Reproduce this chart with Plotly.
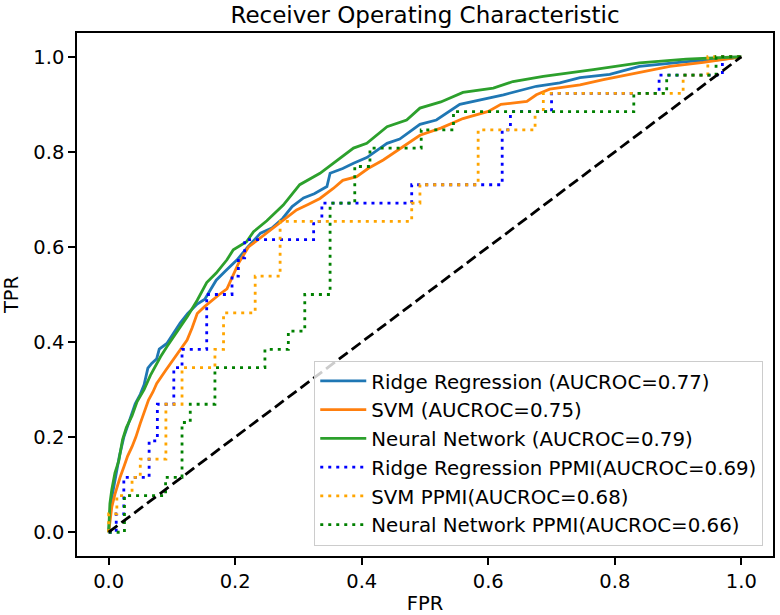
import plotly.graph_objects as go

FONT = "DejaVu Sans"

# ---- solid ROC curves ----
ridge_fpr = [0, 0.002, 0.006, 0.011, 0.017, 0.024, 0.03, 0.036, 0.042, 0.05, 0.056, 0.062, 0.068, 0.076, 0.08,
             0.092, 0.103, 0.113, 0.125, 0.14, 0.152, 0.17, 0.185, 0.203, 0.22, 0.24, 0.258, 0.275, 0.29, 0.308,
             0.325, 0.345, 0.35, 0.37, 0.387, 0.408, 0.44, 0.46, 0.492, 0.518, 0.555, 0.59, 0.624, 0.676, 0.713,
             0.745, 0.792, 0.839, 0.913, 0.966, 1.0]
ridge_tpr = [0, 0.04, 0.08, 0.12, 0.16, 0.2, 0.225, 0.245, 0.27, 0.29, 0.31, 0.345, 0.355, 0.365, 0.385,
             0.397, 0.42, 0.44, 0.46, 0.48, 0.49, 0.53, 0.55, 0.573, 0.6, 0.629, 0.64, 0.66, 0.685, 0.703,
             0.712, 0.727, 0.755, 0.765, 0.776, 0.788, 0.818, 0.827, 0.858, 0.867, 0.9, 0.91, 0.92, 0.938, 0.945,
             0.956, 0.963, 0.98, 0.99, 0.994, 1.0]

svm_fpr = [0, 0.003, 0.005, 0.01, 0.013, 0.018, 0.024, 0.03, 0.037, 0.043, 0.05, 0.056, 0.063, 0.07, 0.076,
           0.09, 0.103, 0.113, 0.124, 0.132, 0.14, 0.152, 0.165, 0.175, 0.187, 0.195, 0.205, 0.221, 0.245, 0.266,
           0.285, 0.297, 0.316, 0.334, 0.355, 0.37, 0.392, 0.41, 0.434, 0.45, 0.492, 0.525, 0.56, 0.6, 0.62,
           0.661, 0.676, 0.697, 0.745, 0.782, 0.834, 0.887, 0.94, 1.0]
svm_tpr = [0, 0.03, 0.053, 0.08, 0.095, 0.115, 0.137, 0.16, 0.18, 0.2, 0.229, 0.25, 0.278, 0.295, 0.313,
           0.34, 0.365, 0.385, 0.404, 0.43, 0.46, 0.475, 0.49, 0.5, 0.512, 0.535, 0.565, 0.6, 0.625, 0.646,
           0.665, 0.678, 0.69, 0.702, 0.723, 0.74, 0.748, 0.765, 0.783, 0.797, 0.835, 0.85, 0.87, 0.885, 0.9,
           0.906, 0.92, 0.932, 0.941, 0.952, 0.966, 0.98, 0.988, 1.0]

nn_fpr = [0, 0.002, 0.005, 0.01, 0.016, 0.022, 0.028, 0.037, 0.045, 0.056, 0.066, 0.082, 0.092, 0.113, 0.125,
          0.14, 0.155, 0.17, 0.187, 0.197, 0.218, 0.229, 0.25, 0.276, 0.29, 0.302, 0.334, 0.355, 0.387, 0.408,
          0.44, 0.471, 0.492, 0.525, 0.56, 0.608, 0.639, 0.687, 0.745, 0.766, 0.839, 0.913, 1.0]
nn_tpr = [0, 0.06, 0.09, 0.125, 0.15, 0.195, 0.22, 0.245, 0.275, 0.3, 0.33, 0.369, 0.39, 0.432, 0.455,
          0.488, 0.525, 0.545, 0.573, 0.594, 0.611, 0.632, 0.655, 0.688, 0.71, 0.731, 0.755, 0.776, 0.808, 0.818,
          0.853, 0.867, 0.892, 0.905, 0.925, 0.934, 0.948, 0.959, 0.969, 0.973, 0.987, 0.995, 1.0]

# ---- PPMI step curves (corner points after each rise) ----
ridge_ppmi_fpr = [0, 0.012, 0.024, 0.064, 0.077, 0.103, 0.116, 0.155, 0.195, 0.205, 0.215, 0.324, 0.337,
                  0.479, 0.622, 0.635, 0.70, 0.87, 0.97, 1.0]
ridge_ppmi_tpr = [0, 0.0385, 0.1154, 0.1923, 0.2692, 0.3462, 0.3846, 0.5, 0.5385, 0.5769, 0.6154, 0.6538,
                  0.6923, 0.7308, 0.8462, 0.8846, 0.9231, 0.9615, 1.0, 1.0]

svm_ppmi_fpr = [0, 0.0, 0.013, 0.037, 0.05, 0.0905, 0.116, 0.168, 0.1816, 0.2316, 0.271, 0.479, 0.492,
                0.584, 0.674, 0.687, 0.908, 0.947, 1.0]
svm_ppmi_tpr = [0, 0.0385, 0.0769, 0.1154, 0.1538, 0.2692, 0.3462, 0.3846, 0.4615, 0.5385, 0.6538, 0.6923,
                0.7308, 0.8462, 0.8846, 0.9231, 0.9615, 1.0, 1.0]

nn_ppmi_fpr = [0, 0.025, 0.09, 0.116, 0.129, 0.168, 0.247, 0.284, 0.31, 0.35, 0.389, 0.413, 0.494, 0.545,
               0.83, 0.882, 0.96, 1.0]
nn_ppmi_tpr = [0, 0.0769, 0.1154, 0.2308, 0.2692, 0.3462, 0.3846, 0.4231, 0.5, 0.6923, 0.7692, 0.8077,
               0.8462, 0.8846, 0.9231, 0.9615, 1.0, 1.0]

chance = [0, 1]

labels = ["Ridge Regression (AUCROC=0.77)", "SVM (AUCROC=0.75)", "Neural Network (AUCROC=0.79)",
          "Ridge Regression PPMI(AUCROC=0.69)", "SVM PPMI(AUCROC=0.68)", "Neural Network PPMI(AUCROC=0.66)"]

tick_vals = [0.0, 0.2, 0.4, 0.6, 0.8, 1.0]

fig = go.Figure()
LW = 2.8
solid = [(ridge_fpr, ridge_tpr, "#1f77b4"), (svm_fpr, svm_tpr, "#ff7f0e"), (nn_fpr, nn_tpr, "#2ca02c")]
for (fx, ty, col), lab in zip(solid, labels[:3]):
    fig.add_trace(go.Scatter(x=fx, y=ty, mode="lines", name=lab,
                             line=dict(color=col, width=LW)))
dotted = [(ridge_ppmi_fpr, ridge_ppmi_tpr, "#0000ff"), (svm_ppmi_fpr, svm_ppmi_tpr, "#ffa500"),
          (nn_ppmi_fpr, nn_ppmi_tpr, "#008000")]
for (fx, ty, col), lab in zip(dotted, labels[3:]):
    fig.add_trace(go.Scatter(x=fx, y=ty, mode="lines", name=lab,
                             line=dict(color=col, width=LW, dash="3px,5px", shape="hv")))
fig.add_trace(go.Scatter(x=chance, y=chance, mode="lines", showlegend=False,
                         line=dict(color="black", width=LW, dash="11px,5px")))

axis_common = dict(range=[-0.05, 1.05], tickvals=tick_vals, tickformat=".1f", showgrid=False, zeroline=False,
                   showline=True, linecolor="black", linewidth=1.5, mirror=True, ticks="outside",
                   ticklen=7, tickwidth=1.5, tickcolor="black", automargin=False,
                   tickfont=dict(family=FONT, size=19.5, color="black"))

fig.update_layout(
    width=780, height=615,
    margin=dict(l=77, r=7, t=33, b=59),
    paper_bgcolor="white", plot_bgcolor="white",
    font=dict(family=FONT, color="black"),
    title=dict(text="Receiver Operating Characteristic", x=0.5, xref="paper", xanchor="center",
               y=1 - 15 / 615, yref="container", yanchor="middle",
               font=dict(family=FONT, size=23, color="black")),
    xaxis=dict(**axis_common, title=dict(text="FPR", font=dict(family=FONT, size=19.5, color="black"), standoff=10)),
    yaxis=dict(**axis_common, title=dict(text="TPR", font=dict(family=FONT, size=19.5, color="black"), standoff=10)),
    legend=dict(x=0.986, y=0.02, xanchor="right", yanchor="bottom",
                bgcolor="rgba(255,255,255,0.8)", bordercolor="#cccccc", borderwidth=1,
                font=dict(family=FONT, size=19.8, color="black"), itemwidth=46,
                tracegroupgap=0),
    showlegend=True,
)

fig.write_html("out.html", config={"displayModeBar": False},
               post_script="document.body.style.margin='0';")
